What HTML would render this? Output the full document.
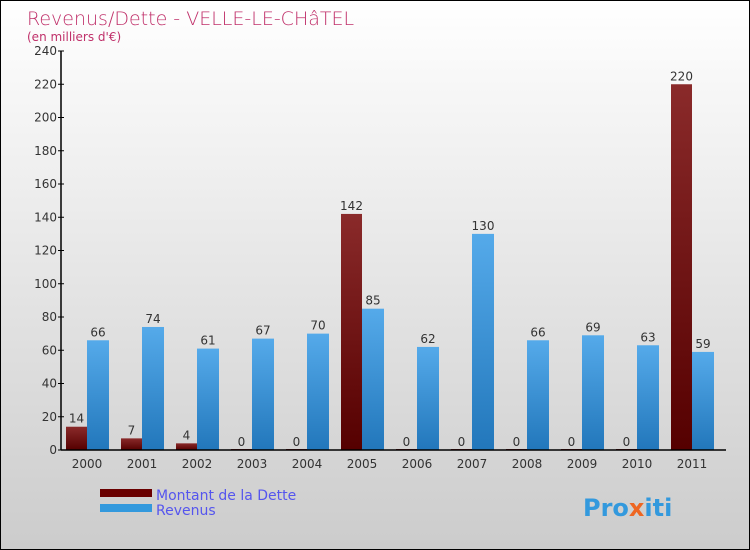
<!DOCTYPE html>
<html><head><meta charset="utf-8"><style>
body{margin:0}
#c{position:relative;width:748px;height:548px;border:1px solid #000;background:linear-gradient(#ffffff,#cccccc);font-family:"DejaVu Sans","Liberation Sans",sans-serif;overflow:hidden}
</style></head><body>
<div id="c">
<svg width="748" height="548" id="s" style="position:absolute;left:0;top:0">
<text x="26" y="24" font-size="19" fill="#c0306a" font-weight="300">Revenus/Dette - VELLE-LE-CHâTEL</text>
<text x="26" y="40" font-size="12" fill="#c0306a">(en milliers d'€)</text>
<g id="g"></g>
<rect x="99" y="488" width="52" height="8" fill="#6a0000"/>
<rect x="99" y="503" width="52" height="8" fill="#3399dd"/>
<text x="155" y="499" font-size="14" fill="#5555ee">Montant de la Dette</text>
<text x="155" y="514" font-size="14" fill="#5555ee">Revenus</text>
<text x="582" y="515" font-size="24" font-weight="bold" fill="#3399dd">Pro<tspan fill="#ee6622">x</tspan>iti</text>
</svg>
</div>
<script>
const years=["2000","2001","2002","2003","2004","2005","2006","2007","2008","2009","2010","2011"];
const dette=[14,7,4,0,0,142,0,0,0,0,0,220];
const revenus=[66,74,61,67,70,85,62,130,66,69,63,59];
const yTicks=[0,20,40,60,80,100,120,140,160,180,200,220,240];
const NS="http://www.w3.org/2000/svg";
const g=document.getElementById('g');
const y=v=>449-v*(399/240);
const xc=i=>86+i*55;
function mk(t,a){const e=document.createElementNS(NS,t);for(const k in a)e.setAttribute(k,a[k]);g.appendChild(e);return e;}
const defs=mk('defs',{});
defs.innerHTML='<linearGradient id="gd" x1="0" y1="0" x2="0" y2="1"><stop offset="0" stop-color="#8a2a2a"/><stop offset="1" stop-color="#550000"/></linearGradient><linearGradient id="gr" x1="0" y1="0" x2="0" y2="1"><stop offset="0" stop-color="#55aaea"/><stop offset="1" stop-color="#2277bb"/></linearGradient>';
years.forEach((yr,i)=>{
  const hd=Math.max(dette[i]*(399/240),1);
  const b1=mk('rect',{x:xc(i)-21,y:449-hd,width:21,height:hd,fill:'url(#gd)'});
  
  
  const t1=mk('text',{x:xc(i)-10.5,y:y(dette[i])-4,'font-size':12,'text-anchor':'middle',fill:'#333'});t1.textContent=dette[i];
  
  
  const b2=mk('rect',{x:xc(i),y:y(revenus[i]),width:22,height:449-y(revenus[i]),fill:'url(#gr)'});
  
  
  const t2=mk('text',{x:xc(i)+11,y:y(revenus[i])-4,'font-size':12,'text-anchor':'middle',fill:'#333'});t2.textContent=revenus[i];
  
  
  const xl=mk('text',{x:xc(i),y:467,'font-size':12,'text-anchor':'middle',fill:'#333'});xl.textContent=yr;
  
  
});
yTicks.forEach(v=>{
  const l=mk('line',{x1:57,x2:63,y1:y(v),y2:y(v),stroke:'#000'});
  
  
  const t=mk('text',{x:56,y:y(v)+4,'font-size':12,'text-anchor':'end',fill:'#333'});t.textContent=v;
  
  
});
const ya=mk('line',{x1:60,x2:60,y1:y(240),y2:449,stroke:'#000','stroke-width':1.5});


const xa=mk('line',{x1:60,x2:725,y1:449,y2:449,stroke:'#000','stroke-width':1.5});


</script>
</body></html>
